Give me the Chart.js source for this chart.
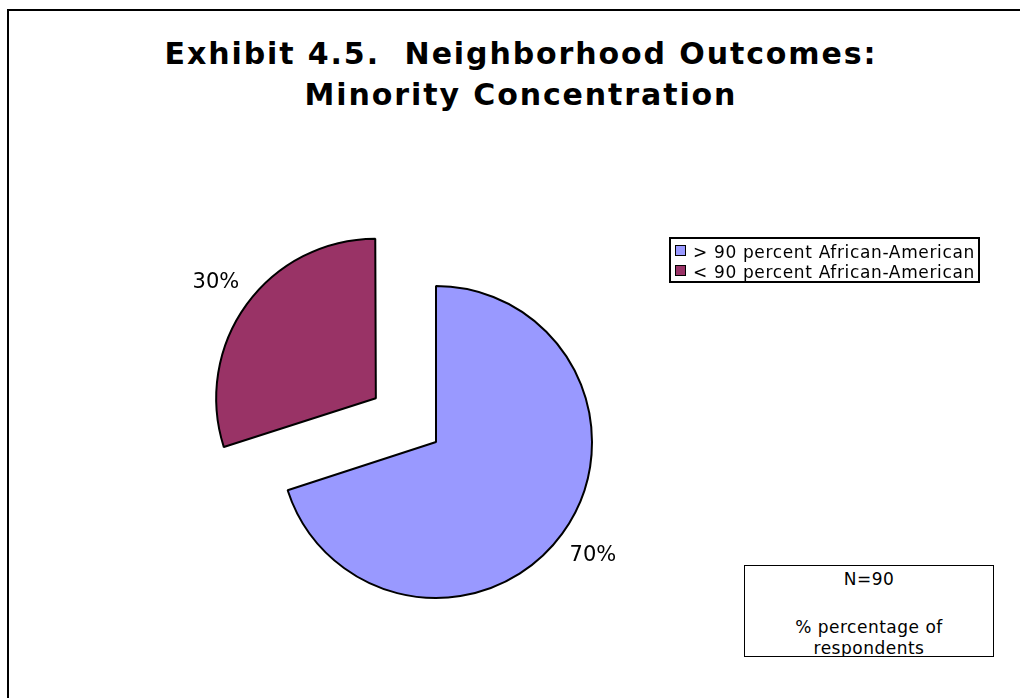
<!DOCTYPE html>
<html>
<head>
<meta charset="utf-8">
<script src="https://cdn.jsdelivr.net/npm/chart.js@4.4.1/dist/chart.umd.min.js"></script>
<style>
  html, body { margin: 0; padding: 0; background: #fff; }
  body { width: 1020px; height: 698px; overflow: hidden; position: relative; font-family: "DejaVu Sans", Verdana, sans-serif; color: #000; }
  #frame { position: absolute; left: 7px; top: 9px; width: 1100px; height: 800px; border: 2px solid #000; }
  #title { position: absolute; left: 0; top: 33px; width: 1042px; text-align: center; font-weight: bold; font-size: 30px; line-height: 41px; letter-spacing: 1.9px; }
  #pieBox { position: absolute; left: 186px; top: 192px; width: 500px; height: 500px; }
  #legend { position: absolute; left: 669px; top: 237px; width: 307px; height: 39px; padding-top: 3px; border: 2px solid #000; }
  #legend .item { position: relative; height: 20px; line-height: 20px; font-size: 17px; letter-spacing: 0.65px; white-space: nowrap; padding-left: 22px; }
  #legend .swatch { position: absolute; left: 4px; top: 3px; width: 9px; height: 9px; border: 1.5px solid #000; }
  #note { position: absolute; left: 744px; top: 565px; width: 248px; height: 90px; border: 1.5px solid #000; text-align: center; font-size: 17px; letter-spacing: 0.5px; overflow: hidden; }
</style>
</head>
<body>
<div id="frame"></div>
<div id="title">Exhibit 4.5.&nbsp; Neighborhood Outcomes:<br>Minority Concentration</div>
<div id="pieBox"><canvas id="myChart" width="500" height="500"></canvas></div>
<div id="legend"></div>
<div id="note">
  <div style="position:absolute;left:0;right:0;top:2px;line-height:22px;">N=90</div>
  <div style="position:absolute;left:0;right:0;top:51px;line-height:21px;">% percentage of<br>respondents</div>
</div>

<script>
var categorias = ['> 90 percent African-American', '< 90 percent African-American'];
var percentuais = [70, 30];
var cores = ['#9999FF', '#993366'];
var destaquePx = [0, 78]; // quanto cada fatia sai do centro, em pixels

// o Chart.js desloca a fatia em offset/4 * (2 - sin(angulo)), entao converte
var total = percentuais.reduce(function(a, b) { return a + b; }, 0);
var afastamento = percentuais.map(function(v, i) {
  var ang = Math.min(Math.PI, 2 * Math.PI * v / total);
  return destaquePx[i] * 4 / (2 - Math.sin(ang));
});

// legenda desenhada a partir das mesmas listas
var legenda = document.getElementById('legend');
categorias.forEach(function(nome, i) {
  var linha = document.createElement('div');
  linha.className = 'item';
  linha.innerHTML = '<span class="swatch" style="background:' + cores[i] + '"></span>';
  linha.appendChild(document.createTextNode(nome));
  legenda.appendChild(linha);
});

// escreve o percentual fora de cada fatia
var rotulos = {
  id: 'rotulos',
  afterDatasetsDraw: function(chart) {
    var ctx = chart.ctx;
    var meta = chart.getDatasetMeta(0);
    ctx.save();
    ctx.font = '21px "DejaVu Sans"';
    ctx.fillStyle = '#000';
    ctx.textAlign = 'center';
    ctx.textBaseline = 'middle';
    meta.data.forEach(function(arc, i) {
      var p = arc.getProps(['x', 'y', 'startAngle', 'endAngle', 'outerRadius'], true);
      var meio = (p.startAngle + p.endAngle) / 2;
      var dist = destaquePx[i] + p.outerRadius + 38;
      ctx.fillText(percentuais[i] + '%', p.x + Math.cos(meio) * dist, p.y + Math.sin(meio) * dist);
    });
    ctx.restore();
  }
};

function grafico() {
  var ctx = document.getElementById('myChart').getContext('2d');
  new Chart(ctx, {
    type: 'pie',
    data: {
      labels: categorias,
      datasets: [{
        data: percentuais,
        backgroundColor: cores,
        borderColor: '#000',
        borderWidth: 2,
        offset: afastamento,
        hoverOffset: 0
      }]
    },
    options: {
      responsive: false,
      animation: false,
      events: [],
      radius: 156,
      layout: { padding: 0 },
      plugins: {
        legend: { display: false },
        title: { display: false },
        tooltip: { enabled: false }
      }
    },
    plugins: [rotulos]
  });
}
grafico();
</script>
</body>
</html>
